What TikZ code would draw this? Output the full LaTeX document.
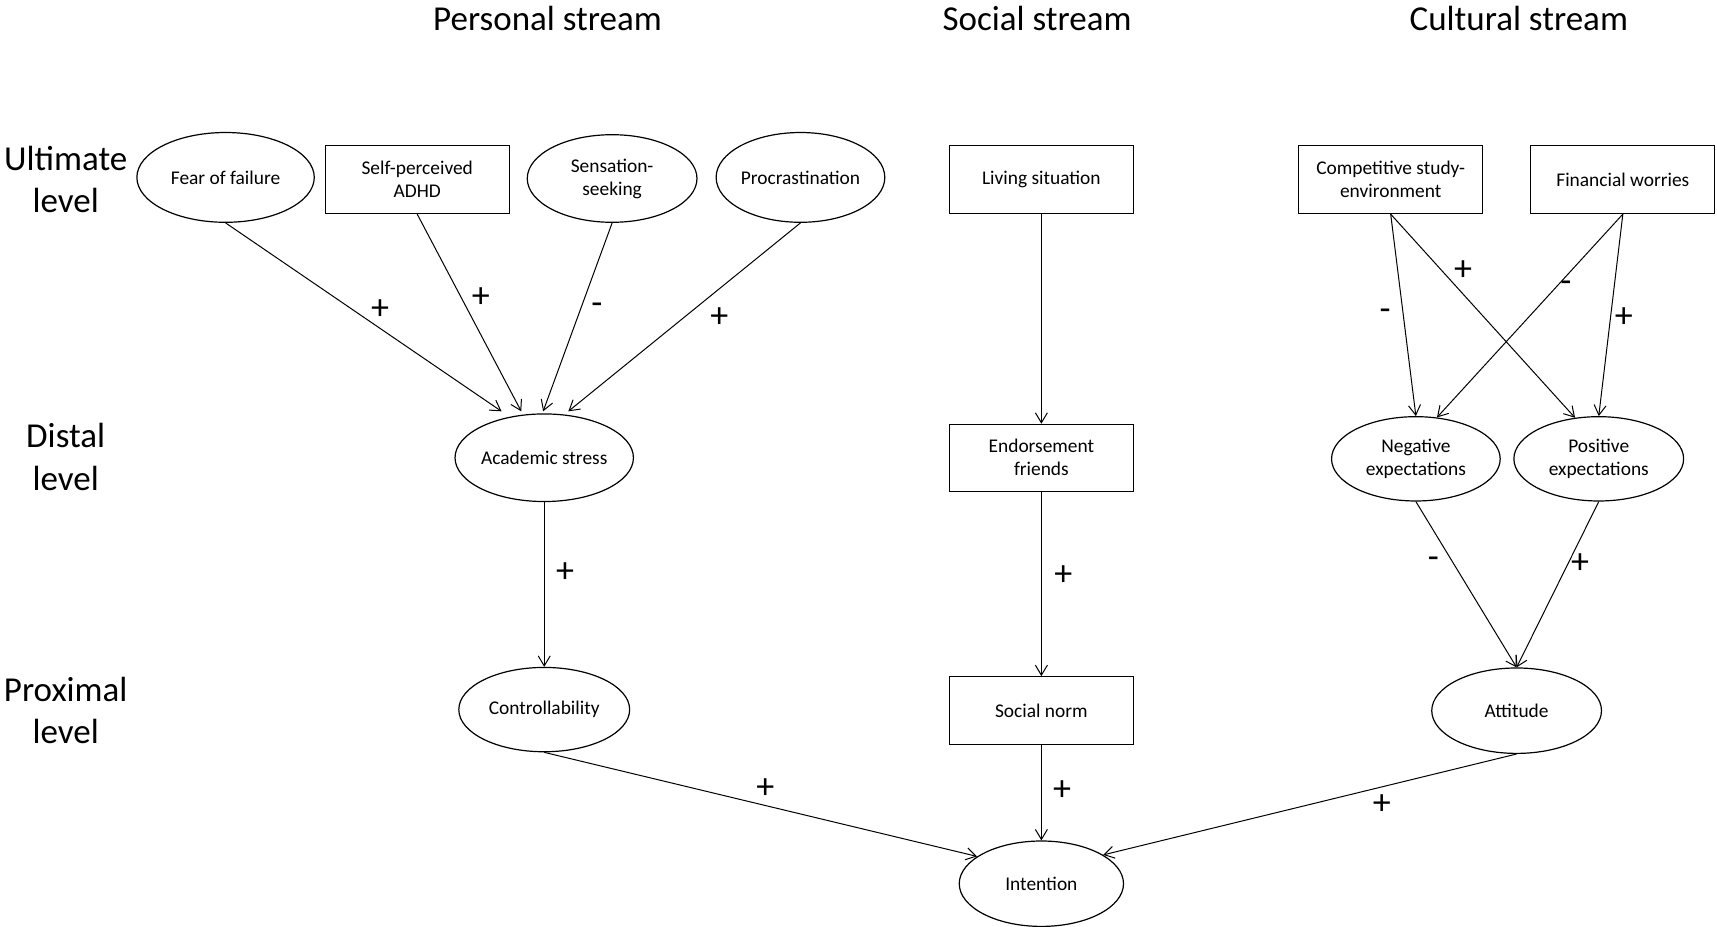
\documentclass[tikz,border=0pt]{standalone}
\usepackage{fontspec}
\setmainfont{Carlito}
\usetikzlibrary{shapes.geometric,arrows.meta}
\newcommand\ndfont{\fontsize{9.7}{11.5}\selectfont}
\begin{document}
\begin{tikzpicture}[x=0.5475pt,y=-0.5475pt,
  ell/.style={draw, ellipse, line width=0.6pt, inner sep=0pt, align=center, font=\ndfont},
  box/.style={draw, rectangle, line width=0.6pt, minimum width=168*0.5475pt, minimum height=62*0.5475pt, inner sep=0pt, align=center, font=\ndfont},
  arr/.style={-{Straight Barb[length=5pt,width=6pt]}, line width=0.5pt},
  lbl/.style={font=\fontsize{18}{18}\selectfont, inner sep=0pt},
  hdr/.style={font=\fontsize{17.5}{17.5}\selectfont, anchor=base},
  lvl/.style={font=\fontsize{17.5}{17.5}\selectfont, anchor=base}]
\useasboundingbox (0,0) rectangle (1568,846);

% headers
\node[hdr] (h1) at (500,28) {Personal stream};
\node[hdr] (h2) at (947,28) {Social stream};
\node[hdr] (h3) at (1387,28) {Cultural stream};

% level labels
\node[lvl] (u1) at (60,156) {Ultimate};
\node[lvl] (u2) at (60,194) {level};
\node[lvl] (d1) at (60,409) {Distal};
\node[lvl] (d2) at (60,448) {level};
\node[lvl] (p1) at (60,641) {Proximal};
\node[lvl] (p2) at (60,679) {level};

% ultimate level
\node[ell, minimum width=162*0.5475pt, minimum height=82*0.5475pt] (fear) at (206,162) {Fear of failure};
\node[box] (adhd) at (381,164) {Self-perceived\\ADHD};
\node[ell, minimum width=155*0.5475pt, minimum height=80*0.5475pt] (sens) at (559,163) {Sensation-\\seeking};
\node[ell, minimum width=154*0.5475pt, minimum height=82*0.5475pt] (proc) at (731,162) {Procrastination};
\node[box] (liv) at (951,164) {Living situation};
\node[box] (comp) at (1270,164) {Competitive study-\\environment};
\node[box] (fin) at (1482,164) {Financial worries};

% distal level
\node[ell, minimum width=156*0.5475pt, minimum height=80*0.5475pt] (stress) at (497,418) {Academic stress};
\node[box, minimum height=61*0.5475pt] (endo) at (951,418) {Endorsement\\friends};
\node[ell, minimum width=154*0.5475pt, minimum height=77*0.5475pt] (neg) at (1293,419) {Negative\\expectations};
\node[ell, minimum width=155*0.5475pt, minimum height=77*0.5475pt] (pos) at (1460,419) {Positive\\expectations};

% proximal level
\node[ell, minimum width=156*0.5475pt, minimum height=77*0.5475pt] (ctrl) at (497,648) {Controllability};
\node[box] (norm) at (951,649) {Social norm};
\node[ell, minimum width=155*0.5475pt, minimum height=78*0.5475pt] (att) at (1385,649) {Attitude};

% outcome
\node[ell, minimum width=150*0.5475pt, minimum height=78*0.5475pt] (int) at (951,807) {Intention};

% connectors
\draw[arr] (fear.south) -- ([xshift=-39*0.5475pt, yshift=1pt]stress.north);
\draw[arr] (adhd.south) -- ([xshift=-21*0.5475pt, yshift=1pt]stress.north);
\draw[arr] (sens.south) -- ([xshift=-1*0.5475pt, yshift=1pt]stress.north);
\draw[arr] (proc.south) -- ([xshift=22*0.5475pt, yshift=1pt]stress.north);
\draw[arr] (stress.south) -- (ctrl.north);
\draw[arr] (liv.south) -- (endo.north);
\draw[arr] (endo.south) -- (norm.north);
\draw[arr] (norm.south) -- (int.north);
\draw[arr] (ctrl.south) -- (int.157);
\draw[arr] (att.south) -- (int.25);
\draw[arr] (comp.south) -- (neg.north);
\draw[arr] (comp.south) -- (pos.120);
\draw[arr] (fin.south) -- (neg.63);
\draw[arr] (fin.south) -- (pos.north);
\draw[arr] (neg.south) -- (att.north);
\draw[arr] (pos.south) -- (att.north);

% signs
\node[lbl] (s1) at (347,283) {+};
\node[lbl] (s2) at (439,272) {+};
\node[lbl] (s3) at (545,282) {-};
\node[lbl] (s4) at (657,290) {+};
\node[lbl] (s5) at (516,523) {+};
\node[lbl] (s6) at (971,526) {+};
\node[lbl] (s7) at (970,722) {+};
\node[lbl] (s8) at (699,720) {+};
\node[lbl] (s9) at (1262,735) {+};
\node[lbl] (s10) at (1265,287) {-};
\node[lbl] (s11) at (1336,247) {+};
\node[lbl] (s12) at (1430,262) {-};
\node[lbl] (s13) at (1483,290) {+};
\node[lbl] (s14) at (1309,514) {-};
\node[lbl] (s15) at (1443,515) {+};
\end{tikzpicture}
\end{document}
